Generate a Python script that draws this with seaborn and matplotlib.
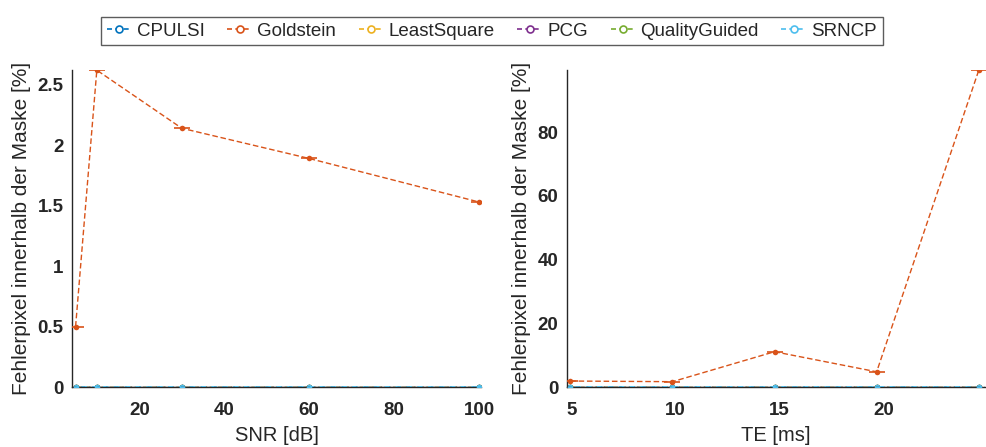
import matplotlib
matplotlib.use("Agg")
import matplotlib.pyplot as plt
from matplotlib.lines import Line2D
import seaborn as sns
import numpy as np

sns.set_theme(style="white")
plt.rcParams['font.family'] = ['Liberation Sans', 'DejaVu Sans']

methods = ["CPULSI", "Goldstein", "LeastSquare", "PCG", "QualityGuided", "SRNCP"]
colors = ["#0072BD", "#D95319", "#EDB120", "#7E2F8E", "#77AC30", "#4DBEEE"]

snr = [5, 10, 30, 60, 100]
snr_vals = {
    "CPULSI": [0, 0, 0, 0, 0],
    "Goldstein": [0.50, 2.62, 2.14, 1.89, 1.53],
    "LeastSquare": [0, 0, 0, 0, 0],
    "PCG": [0, 0, 0, 0, 0],
    "QualityGuided": [0, 0, 0, 0, 0],
    "SRNCP": [0, 0, 0, 0, 0],
}

te = [4.92, 9.84, 14.76, 19.68, 24.6]
te_vals = {
    "CPULSI": [0, 0, 0, 0, 0],
    "Goldstein": [1.9, 1.7, 11.1, 4.8, 99.4],
    "LeastSquare": [0, 0, 0, 0, 0],
    "PCG": [0, 0, 0, 0, 0],
    "QualityGuided": [0, 0, 0, 0, 0],
    "SRNCP": [0, 0, 0, 0, 0],
}

snr_xticks = [20, 40, 60, 80, 100]
snr_yticks = [0, 0.5, 1, 1.5, 2, 2.5]
snr_ytick_labels = ["0", "0.5", "1", "1.5", "2", "2.5"]
te_xticks = [5, 10, 15, 20]
te_yticks = [0, 20, 40, 60, 80]
ylabel = "Fehlerpixel innerhalb der Maske [%]"

fig = plt.figure(figsize=(9.86, 4.47), dpi=100)
ax1 = fig.add_axes([0.073, 0.134, 0.415, 0.709])
ax2 = fig.add_axes([0.575, 0.134, 0.424, 0.709])

text_color = "#262626"

def draw(ax, x, vals, xlim, ylim, xticks, yticks, xlabel, yticklabels=None, capw=12):
    for m, c in zip(methods, colors):
        y = vals[m]
        if m == "SRNCP":
            sns.lineplot(x=x, y=y, ax=ax, color=c, linestyle=(3, (3, 3)), linewidth=1.3,
                         marker="o", markersize=4, markeredgewidth=0, zorder=3)
        else:
            sns.lineplot(x=x, y=y, ax=ax, color=c, linestyle=(0, (4, 2)), linewidth=1.0,
                         marker="o", markersize=4, markeredgewidth=0, zorder=2 if m != "Goldstein" else 4)
        if m == "Goldstein":
            ax.plot(x, y, linestyle="none", marker="_", markersize=capw,
                    markeredgewidth=1.2, color=c, zorder=4)
    ax.axhline(0, color="#333333", linestyle=(0, (3, 3)), linewidth=1.0, zorder=3.5)
    ax.set_xlim(*xlim)
    ax.set_ylim(*ylim)
    ax.set_xticks(xticks)
    ax.set_yticks(yticks)
    if yticklabels is not None:
        ax.set_yticklabels(yticklabels)
    for lab in ax.get_xticklabels() + ax.get_yticklabels():
        lab.set_fontweight("bold")
        lab.set_fontsize(13.5)
        lab.set_color(text_color)
    ax.tick_params(direction="in", length=5, width=1, colors="#262626")
    ax.tick_params(axis="x", pad=10.5)
    ax.tick_params(axis="y", pad=6)
    ax.set_xlabel(xlabel, fontsize=14.5, color=text_color, labelpad=5.5)
    ax.set_ylabel(ylabel, fontsize=15, color=text_color, labelpad=5)
    sns.despine(ax=ax)
    for s in ["left", "bottom"]:
        ax.spines[s].set_color("#262626")
        ax.spines[s].set_linewidth(1.0)
    ax.grid(False)

draw(ax1, snr, snr_vals, (4.15, 100.5), (0, 2.62), snr_xticks, snr_yticks, "SNR [dB]",
     yticklabels=snr_ytick_labels)
draw(ax2, te, te_vals, (4.76, 24.9), (0, 99.4), te_xticks, te_yticks, "TE [ms]")

handles = [Line2D([0], [0], color=c, linestyle=(0, (3, 2)), linewidth=1.2, marker="o",
                  markersize=5, markerfacecolor="white", markeredgecolor=c, markeredgewidth=1.2)
           for c in colors]
leg = fig.legend(handles, methods, loc="upper center", bbox_to_anchor=(0.499, 0.983), ncol=6,
                 frameon=True, fancybox=False, fontsize=13.5, handlelength=1.3, handletextpad=0.3,
                 columnspacing=1.2, borderpad=0.3)
leg.get_frame().set_edgecolor("#333333")
leg.get_frame().set_linewidth(1.0)
for t in leg.get_texts():
    t.set_color(text_color)

fig.savefig("out.png", dpi=100)
